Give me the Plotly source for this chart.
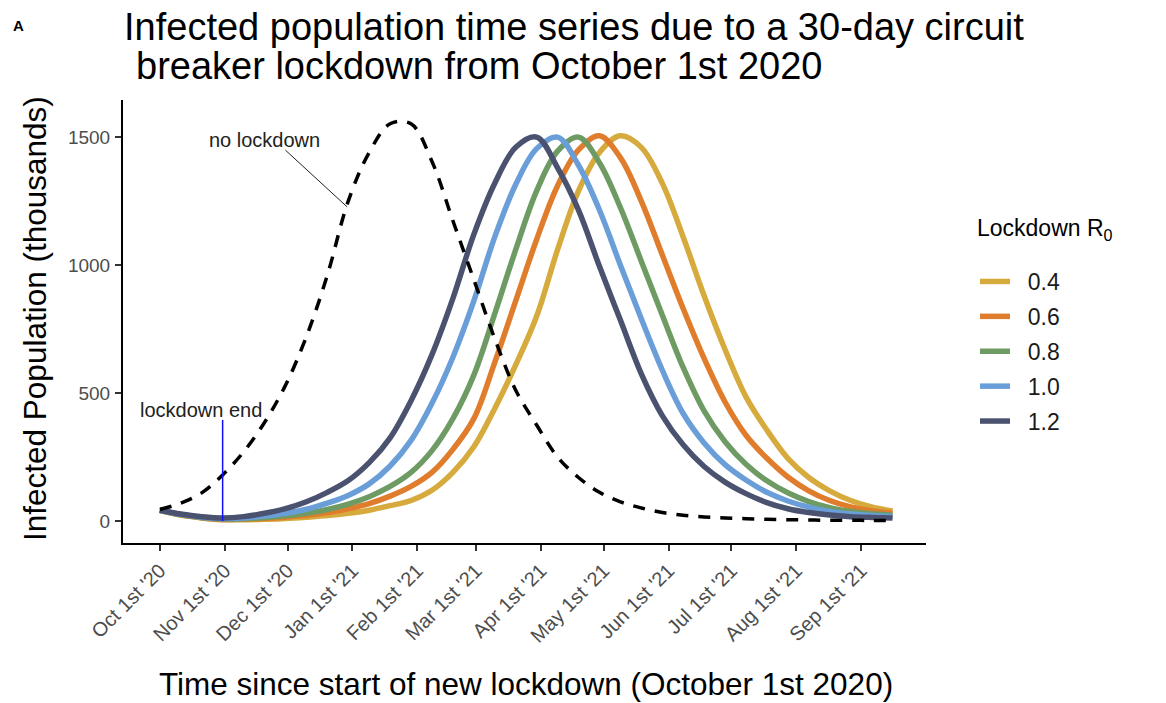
import plotly.graph_objects as go

# Days since October 1st 2020
DAYS = list(range(0, 351, 10))

# Infected population (thousands) for each lockdown R0 value
R04 = [42, 23, 12, 5, 5, 7, 10, 15, 21, 30, 42, 60, 80, 120, 190, 290, 440, 610,
       800, 1060, 1290, 1440, 1505, 1460, 1320, 1110, 880, 670, 485, 355, 245,
       170, 118, 80, 55, 39]
R06 = [42, 24, 13, 6, 7, 10, 15, 22, 33, 48, 68, 97, 135, 190, 280, 400, 620, 860,
       1100, 1310, 1450, 1505, 1420, 1250, 1040, 830, 635, 465, 335, 245, 172,
       118, 80, 55, 40, 30]
R08 = [42, 25, 14, 8, 9, 13, 20, 30, 45, 66, 95, 135, 190, 275, 400, 570, 810,
       1060, 1290, 1445, 1500, 1400, 1225, 1015, 805, 600, 430, 310, 222, 157,
       110, 76, 52, 37, 28, 23]
R10 = [42, 26, 15, 10, 12, 19, 30, 46, 70, 100, 145, 215, 315, 460, 640, 860,
       1110, 1315, 1455, 1500, 1390, 1215, 1000, 790, 590, 420, 305, 220, 160,
       112, 78, 54, 37, 27, 21, 18]
R12 = [42, 27, 17, 12, 17, 30, 48, 75, 112, 158, 228, 325, 470, 650, 870, 1120,
       1320, 1460, 1500, 1380, 1215, 995, 785, 575, 412, 298, 213, 152, 107, 72,
       48, 33, 23, 17, 14, 12]
NO_LOCKDOWN = [45, 70, 110, 180, 270, 385, 530, 720, 960, 1250, 1440, 1552, 1552,
               1405, 1173, 943, 712, 511, 375, 250, 170, 112, 75, 51, 33, 22, 16,
               12, 9, 7, 5, 4, 3, 3, 2, 2]

SERIES_NAMES = ["0.4", "0.6", "0.8", "1.0", "1.2"]
SERIES_VALUES = [R04, R06, R08, R10, R12]
SERIES_COLORS = ["#D6AA3C", "#E07D2D", "#6E9B64", "#6A9ED8", "#4A5270"]

TICK_DAYS = [0, 31, 61, 92, 123, 151, 182, 212, 243, 273, 304, 335]
TICK_TEXT = ["Oct 1st '20", "Nov 1st '20", "Dec 1st '20", "Jan 1st '21",
             "Feb 1st '21", "Mar 1st '21", "Apr 1st '21", "May 1st '21",
             "Jun 1st '21", "Jul 1st '21", "Aug 1st '21", "Sep 1st '21"]

LOCKDOWN_END_DAY = 30
LOCKDOWN_END_TOP = 395

FONT = "Liberation Sans, Arial, sans-serif"

fig = go.Figure()

for name, vals, col in zip(SERIES_NAMES, SERIES_VALUES, SERIES_COLORS):
    fig.add_trace(go.Scatter(x=DAYS, y=vals, mode="lines",
                             name="\u00a0\u00a0" + name,
                             legendgroup=name,
                             line=dict(color=col, width=5.5, shape="spline",
                                       smoothing=1.0)))

fig.add_trace(go.Scatter(x=DAYS, y=NO_LOCKDOWN, mode="lines", showlegend=False,
                         line=dict(color="black", width=3.5, dash="12px,10px",
                                   shape="spline", smoothing=1.0)))

fig.add_trace(go.Scatter(x=[LOCKDOWN_END_DAY, LOCKDOWN_END_DAY],
                         y=[0, LOCKDOWN_END_TOP], mode="lines", showlegend=False,
                         line=dict(color="#1010FF", width=1.5)))

# pointer for "no lockdown"
fig.add_trace(go.Scatter(x=[60, 89.5], y=[1449, 1227], mode="lines",
                         showlegend=False, line=dict(color="#222222", width=1)))

# page has an 8px body margin; figure sized to fit inside the window
OFF = 8
W, H = 1158, 695
L, T = 115, 92
PW, PH = 803, 443
R = W - L - PW
B = H - T - PH


def px(xpage):
    return (xpage - OFF - L) / PW


def py(ypage):
    return (T + PH - (ypage - OFF)) / PH


anns = [
    dict(text="no lockdown", x=50, y=1490, xref="x", yref="y", showarrow=False,
         xanchor="center", yanchor="middle",
         font=dict(size=20, color="#222222", family=FONT)),
    dict(text="lockdown end", x=19.5, y=432, xref="x", yref="y", showarrow=False,
         xanchor="center", yanchor="middle",
         font=dict(size=20, color="#222222", family=FONT)),
    dict(text="Infected population time series due to a 30-day circuit",
         x=px(122), y=py(27), xref="paper", yref="paper", xanchor="left",
         yanchor="middle", showarrow=False,
         font=dict(size=38, color="black", family=FONT)),
    dict(text="breaker lockdown from October 1st 2020",
         x=px(134), y=py(66), xref="paper", yref="paper", xanchor="left",
         yanchor="middle", showarrow=False,
         font=dict(size=38, color="black", family=FONT)),
    dict(text="<b>A</b>", x=px(18), y=py(25), xref="paper", yref="paper",
         xanchor="center", yanchor="middle",
         showarrow=False, font=dict(size=15, color="black", family=FONT)),
    dict(text="Time since start of new lockdown (October 1st 2020)",
         x=px(526), y=py(684), xref="paper", yref="paper", showarrow=False,
         xanchor="center", yanchor="middle",
         font=dict(size=31.5, color="black", family=FONT)),
    dict(text="Infected Population (thousands)", x=px(35), y=py(319),
         xref="paper", yref="paper", showarrow=False, textangle=-90,
         xanchor="center", yanchor="middle",
         font=dict(size=31.5, color="black", family=FONT)),
    dict(text="Lockdown R<sub>0</sub>", x=px(975), y=py(229), xref="paper",
         yref="paper", showarrow=False, xanchor="left", yanchor="middle",
         font=dict(size=23, color="black", family=FONT)),
]

fig.update_layout(
    width=W, height=H,
    margin=dict(l=L, r=R, t=T, b=B, autoexpand=False),
    paper_bgcolor="white", plot_bgcolor="white",
    font=dict(family=FONT, color="#4D4D4D"),
    annotations=anns,
    showlegend=True,
    legend=dict(x=px(975), y=py(260), xanchor="left", yanchor="top",
                font=dict(size=23, color="#1A1A1A", family=FONT),
                tracegroupgap=2, itemwidth=30, bgcolor="rgba(0,0,0,0)"),
)

fig.update_xaxes(range=[-17.6, 366], tickmode="array", tickvals=TICK_DAYS,
                 ticktext=TICK_TEXT, tickangle=-45, showgrid=False,
                 zeroline=False, showline=True, linecolor="black", linewidth=2,
                 ticks="outside", ticklen=6, tickcolor="#333333", tickwidth=1.5,
                 tickfont=dict(size=20, color="#4D4D4D", family=FONT))
fig.update_yaxes(range=[-86, 1645], tickmode="array", tickvals=[0, 500, 1000, 1500],
                 showgrid=False, zeroline=False, showline=True, linecolor="black",
                 linewidth=2, ticks="outside", ticklen=6, tickcolor="#333333",
                 tickwidth=1.5, ticklabelstandoff=1,
                 tickfont=dict(size=19, color="#4D4D4D", family=FONT))

fig.write_html("out.html")
